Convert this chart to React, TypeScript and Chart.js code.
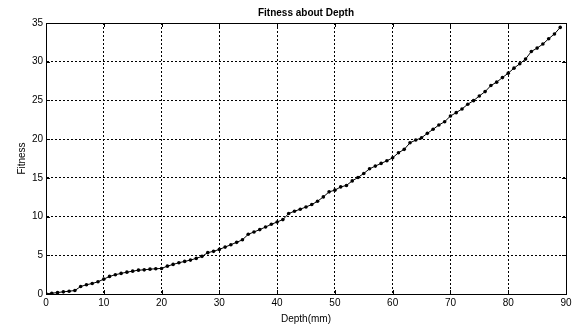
import React, { useEffect, useRef } from "react";
import { Chart, registerables } from "chart.js";

Chart.register(...registerables);

const chartTitle = "Fitness about Depth";
const xAxisTitle = "Depth(mm)";
const yAxisTitle = "Fitness";

const depth = [
  0, 1, 2, 3, 4, 5, 6, 7, 8, 9,
  10, 11, 12, 13, 14, 15, 16, 17, 18, 19,
  20, 21, 22, 23, 24, 25, 26, 27, 28, 29,
  30, 31, 32, 33, 34, 35, 36, 37, 38, 39,
  40, 41, 42, 43, 44, 45, 46, 47, 48, 49,
  50, 51, 52, 53, 54, 55, 56, 57, 58, 59,
  60, 61, 62, 63, 64, 65, 66, 67, 68, 69,
  70, 71, 72, 73, 74, 75, 76, 77, 78, 79,
  80, 81, 82, 83, 84, 85, 86, 87, 88, 89,
];

const fitness = [
  0.03, 0.1, 0.19, 0.28, 0.36, 0.45, 0.97, 1.19, 1.36, 1.58,
  1.92, 2.27, 2.49, 2.66, 2.82, 2.95, 3.08, 3.12, 3.21, 3.26,
  3.3, 3.6, 3.82, 4.04, 4.21, 4.38, 4.6, 4.86, 5.34, 5.51,
  5.76, 6.06, 6.37, 6.67, 7.0, 7.71, 8.01, 8.32, 8.65, 9.0,
  9.3, 9.61, 10.39, 10.69, 10.95, 11.24, 11.55, 11.98, 12.54, 13.19,
  13.41, 13.83, 14.02, 14.61, 15.05, 15.57, 16.17, 16.52, 16.87, 17.2,
  17.59, 18.24, 18.68, 19.53, 19.88, 20.18, 20.75, 21.27, 21.83, 22.25,
  22.99, 23.42, 23.9, 24.51, 24.97, 25.58, 26.14, 26.92, 27.36, 27.95,
  28.52, 29.17, 29.73, 30.34, 31.32, 31.76, 32.28, 32.97, 33.58, 34.43,
];

const xTicks = [0, 10, 20, 30, 40, 50, 60, 70, 80, 90];
const yTicks = [0, 5, 10, 15, 20, 25, 30, 35];

const FONT = "'Liberation Sans', Arial, Helvetica, sans-serif";

const boxPlugin = {
  id: "matlabBox",
  afterDraw(chart: any) {
    const { ctx, chartArea } = chart;
    const { left, right, top, bottom } = chartArea;
    const xs = chart.scales.x;
    const ys = chart.scales.y;
    ctx.save();
    ctx.strokeStyle = "#000";
    ctx.lineWidth = 1;
    ctx.setLineDash([]);
    ctx.strokeRect(Math.round(left) + 0.5, Math.round(top) + 0.5, Math.round(right - left), Math.round(bottom - top));
    const tl = 4;
    ctx.beginPath();
    xTicks.forEach((v) => {
      const px = Math.round(xs.getPixelForValue(v)) + 0.5;
      ctx.moveTo(px, bottom);
      ctx.lineTo(px, bottom - tl);
      ctx.moveTo(px, top);
      ctx.lineTo(px, top + tl);
    });
    yTicks.forEach((v) => {
      const py = Math.round(ys.getPixelForValue(v)) + 0.5;
      ctx.moveTo(left, py);
      ctx.lineTo(left + tl, py);
      ctx.moveTo(right, py);
      ctx.lineTo(right - tl, py);
    });
    ctx.stroke();
    ctx.restore();
  },
};

export default function App() {
  const ref = useRef<HTMLCanvasElement>(null);

  useEffect(() => {
    document.body.style.margin = "0";
    const canvas = ref.current;
    if (!canvas) return;
    const points = depth.map((d, i) => ({ x: d, y: fitness[i] }));
    const chart = new Chart(canvas, {
      type: "scatter",
      data: {
        datasets: [
          {
            data: points,
            showLine: true,
            borderColor: "#000",
            backgroundColor: "#000",
            borderWidth: 1,
            pointRadius: 1.8,
            pointBorderWidth: 0,
            pointBackgroundColor: "#000",
            tension: 0,
          },
        ],
      },
      options: {
        responsive: false,
        animation: false,
        devicePixelRatio: 1,
        layout: { padding: { left: 0, right: 15, top: 0, bottom: 0 } },
        plugins: {
          legend: { display: false },
          tooltip: { enabled: false },
          title: {
            display: true,
            text: chartTitle,
            color: "#000",
            fullSize: false,
            font: { family: FONT, size: 10, weight: "bold" },
            padding: { top: 7, bottom: 4 },
          },
        },
        scales: {
          x: {
            type: "linear",
            min: 0,
            max: 90,
            afterBuildTicks: (s: any) => {
              s.ticks = xTicks.map((v) => ({ value: v }));
            },
            afterFit: (s: any) => {
              s.height = 36;
            },
            ticks: {
              color: "#000",
              font: { family: FONT, size: 10 },
              padding: 3,
              maxRotation: 0,
              autoSkip: false,
            },
            grid: { color: "#000", lineWidth: 1, drawTicks: false },
            border: { display: true, color: "#000", dash: [2, 2] },
            title: {
              display: true,
              text: xAxisTitle,
              color: "#000",
              font: { family: FONT, size: 10 },
              padding: { top: 0, bottom: 5 },
            },
          },
          y: {
            type: "linear",
            min: 0,
            max: 35,
            afterBuildTicks: (s: any) => {
              s.ticks = yTicks.map((v) => ({ value: v }));
            },
            afterFit: (s: any) => {
              s.width = 46;
            },
            ticks: {
              color: "#000",
              font: { family: FONT, size: 10 },
              padding: 3,
              autoSkip: false,
            },
            grid: { color: "#000", lineWidth: 1, drawTicks: false },
            border: { display: true, color: "#000", dash: [2, 2] },
            title: {
              display: true,
              text: yAxisTitle,
              color: "#000",
              font: { family: FONT, size: 10 },
              padding: { top: 16, bottom: 0 },
            },
          },
        },
      },
      plugins: [boxPlugin],
    } as any);
    return () => chart.destroy();
  }, []);

  return (
    <div style={{ position: "absolute", left: 0, top: 0, width: 581, height: 330, background: "#fff" }}>
      <canvas ref={ref} width={581} height={330} style={{ display: "block", width: 581, height: 330 }} />
    </div>
  );
}
